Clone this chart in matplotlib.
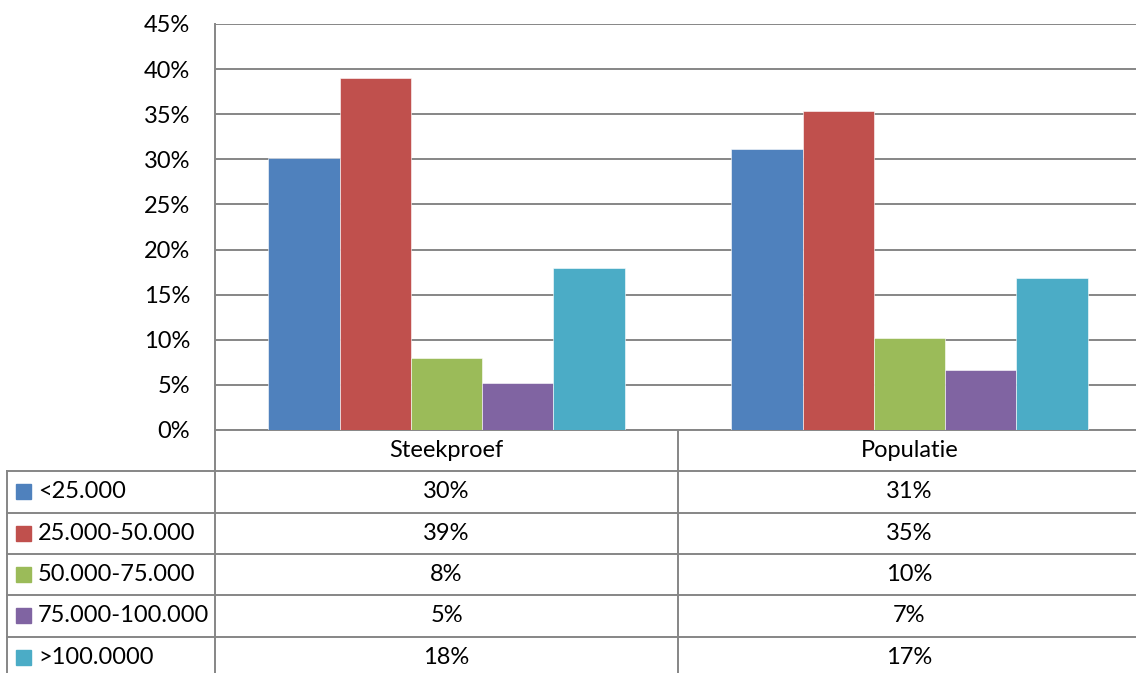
import matplotlib.pyplot as plt
from matplotlib.patches import Rectangle

# data
categories = ['Steekproef', 'Populatie']
series = ['<25.000', '25.000-50.000', '50.000-75.000', '75.000-100.000', '>100.0000']
steekproef = [30.2, 39.0, 8.0, 5.2, 18.0]
populatie = [31.1, 35.4, 10.2, 6.6, 16.9]
colors = ['#4F81BD', '#C0504D', '#9BBB59', '#8064A2', '#4BACC6']
y_ticks = [0, 5, 10, 15, 20, 25, 30, 35, 40, 45]

values = [steekproef, populatie]
grid_col = '#868686'
plt.rcParams['font.family'] = ['Lato', 'DejaVu Sans']
fs = 17

W, H = 1136, 673
fig = plt.figure(figsize=(W / 100, H / 100), dpi=100)
fig.patch.set_facecolor('white')

# plot area: 215..1141 px wide, 24..430 px tall
ax = fig.add_axes([215 / W, 243 / H, 926 / W, 406 / H])
ax.set_xlim(0, 2)
ax.set_ylim(0, 45)

n = len(series)
bw = 1 / (n + 1.5)
for i, name in enumerate(series):
    xs = [c + 0.5 + (i - (n - 1) / 2) * bw for c in range(len(categories))]
    hs = [v[i] for v in values]
    ax.bar(xs, hs, width=bw, color=colors[i], edgecolor='white', linewidth=0.4, zorder=3)

ax.set_yticks(y_ticks)
ax.set_yticklabels([f'{t}%' for t in y_ticks], fontsize=fs)
ax.tick_params(axis='y', length=0, pad=18)
ax.set_xticks([])
ax.yaxis.grid(True, color=grid_col, linewidth=1.4, zorder=0)
for s in ['top', 'right']:
    ax.spines[s].set_visible(False)
for s in ['left', 'bottom']:
    ax.spines[s].set_color(grid_col)
    ax.spines[s].set_linewidth(1.4)

# data table underneath, in category units horizontally, row units vertically
row_h = 41.3
tax = fig.add_axes([0, 0, 1, 243 / H])
tax.set_xlim(-215 / 463, (W - 215) / 463)
tax.set_ylim(243 / row_h, 0)
tax.axis('off')
left_x = (7 - 215) / 463
n_rows = n + 1
kw = dict(color=grid_col, linewidth=1.4, clip_on=False)

for c in range(len(categories) + 1):
    tax.plot([c, c], [0, n_rows], **kw)
for r in range(1, n_rows + 1):
    tax.plot([left_x, 2], [r, r], **kw)
tax.plot([left_x, left_x], [1, n_rows], **kw)

for c, cat in enumerate(categories):
    tax.text(c + 0.5, 0.5, cat, ha='center', va='center', fontsize=fs)

for i, name in enumerate(series):
    yc = i + 1.5
    sq = 15 / 463
    tax.add_patch(Rectangle((left_x + 9 / 463, yc - 7.5 / row_h), sq, 15 / row_h,
                            color=colors[i], clip_on=False))
    tax.text(left_x + 31 / 463, yc, name, ha='left', va='center', fontsize=fs)
    for c in range(len(categories)):
        tax.text(c + 0.5, yc, f'{int(values[c][i] + 0.5)}%', ha='center', va='center', fontsize=fs)

fig.savefig('out.png', dpi=100)
